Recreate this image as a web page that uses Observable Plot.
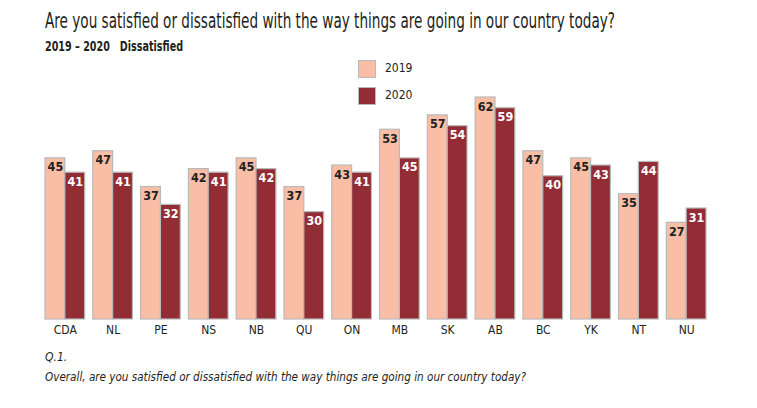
<!DOCTYPE html>
<html>
<head>
<meta charset="utf-8">
<script src="https://cdn.jsdelivr.net/npm/d3@7"></script>
<script src="https://cdn.jsdelivr.net/npm/@observablehq/plot@0.6"></script>
<style>
  body { margin: 0; background: #fff; }
  #wrap {
    position: relative; width: 757px; height: 408px; overflow: hidden;
    font-family: "Liberation Sans Narrow", "DejaVu Sans Condensed", "Roboto Condensed", sans-serif;
    font-stretch: condensed; color: #231f20;
  }
  .abs { position: absolute; white-space: nowrap; }
  #title { left: 45px; top: 9px; font-size: 21px; transform-origin: left top; }
  #subtitle { left: 45px; top: 38px; font-size: 14px; font-weight: bold; transform-origin: left top; }
  #chart { left: 0; top: 56px; }
  .key { position: absolute; left: 358px; width: 16px; height: 16px; border: 1px solid #b9b9b9; }
  .keylab { position: absolute; left: 385px; font-size: 12px; line-height: 14px; }
  #q { left: 45px; top: 350px; font-size: 12px; font-style: italic; }
  #note { left: 45px; top: 370px; font-size: 12px; font-style: italic; transform-origin: left top; }
</style>
</head>
<body>
<div id="wrap">
  <div id="title" class="abs">Are you satisfied or dissatisfied with the way things are going in our country today?</div>
  <div id="subtitle" class="abs">2019 – 2020&nbsp;&nbsp;&nbsp;Dissatisfied</div>
  <div id="chart" class="abs"></div>
  <div id="legend"></div>
  <div id="q" class="abs">Q.1.</div>
  <div id="note" class="abs">Overall, are you satisfied or dissatisfied with the way things are going in our country today?</div>
</div>
<script>
// Provinces / territories, in display order
const regions = ["CDA", "NL", "PE", "NS", "NB", "QU", "ON", "MB", "SK", "AB", "BC", "YK", "NT", "NU"];
const years = ["2019", "2020"];
// Share dissatisfied (%)
const values2019 = [45, 47, 37, 42, 45, 37, 43, 53, 57, 62, 47, 45, 35, 27];
const values2020 = [41, 41, 32, 41, 42, 30, 41, 45, 54, 59, 40, 43, 44, 31];
const yearColors = ["#f9bea5", "#922c35"];

const rows = regions.flatMap((region, i) => [
  {region, year: years[0], value: values2019[i]},
  {region, year: years[1], value: values2020[i]}
]);

const font = '"Liberation Sans Narrow", "DejaVu Sans Condensed", sans-serif';

const chart = Plot.plot({
  width: 757,
  height: 283,
  marginLeft: 45,
  marginRight: 51,
  marginTop: 41,
  marginBottom: 20,
  style: {fontFamily: font, fontSize: "12px", color: "#231f20", background: "transparent"},
  fx: {domain: regions, paddingInner: 0.17, paddingOuter: 0, round: false, label: null, axis: "bottom", tickSize: 0, tickPadding: 6},
  x: {domain: years, padding: 0, round: false, axis: null},
  y: {domain: [0, 62], axis: null},
  color: {domain: years, range: yearColors},
  marks: [
    Plot.barY(rows, {fx: "region", x: "year", y: "value", fill: "year", stroke: "#b9b9b9", strokeWidth: 1.2}),
    Plot.text(rows.filter(d => d.year === years[0]), {fx: "region", x: "year", y: "value", text: "value", dy: 9, fill: "#231f20", fontWeight: "bold", fontSize: 12.5}),
    Plot.text(rows.filter(d => d.year === years[1]), {fx: "region", x: "year", y: "value", text: "value", dy: 9, fill: "#ffffff", fontWeight: "bold", fontSize: 12.5})
  ]
});
document.getElementById("chart").appendChild(chart);

// Legend: swatch + year label
const legend = document.getElementById("legend");
years.forEach((y, i) => {
  const top = 60 + i * 27;
  const sw = document.createElement("div");
  sw.className = "key";
  sw.style.top = top + "px";
  sw.style.background = yearColors[i];
  legend.appendChild(sw);
  const lab = document.createElement("div");
  lab.className = "keylab";
  lab.style.top = (top + 1) + "px";
  lab.textContent = y;
  legend.appendChild(lab);
});

// Fit condensed text widths
function fit(id, w) {
  const el = document.getElementById(id);
  const r = el.getBoundingClientRect().width;
  el.style.transform = `scaleX(${w / r})`;
}
fit("title", 570);
fit("subtitle", 138);
fit("note", 481);
</script>
</body>
</html>
